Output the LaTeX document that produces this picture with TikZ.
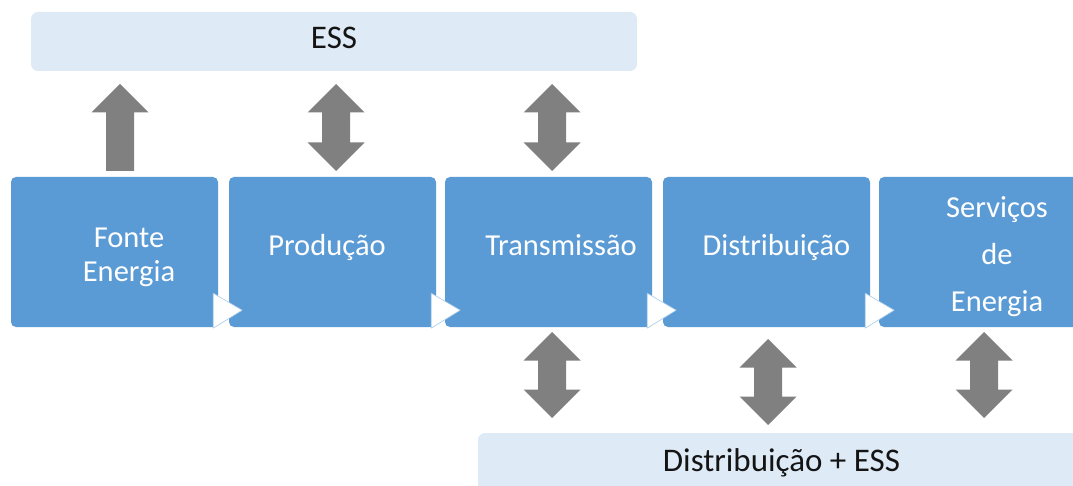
\documentclass[tikz,border=0pt]{standalone}
\usepackage{fontspec}
\setmainfont{Carlito}
\usetikzlibrary{positioning, calc}
\definecolor{chainblue}{HTML}{5B9BD5}
\definecolor{esslight}{HTML}{DEEAF6}
\definecolor{arrowgray}{HTML}{808080}
\definecolor{edgeblue}{HTML}{A9CBEA}
\definecolor{textdark}{HTML}{141414}

% block arrows: x centre, top tip, bottom tip
\newcommand{\dblblock}[3]{%
  \fill[arrowgray] (#1,#2) -- (#1+28.5,#2+28.5) -- (#1+14,#2+28.5) -- (#1+14,#3-28.5)
    -- (#1+28.5,#3-28.5) -- (#1,#3) -- (#1-28.5,#3-28.5) -- (#1-14,#3-28.5)
    -- (#1-14,#2+28.5) -- (#1-28.5,#2+28.5) -- cycle;}
\newcommand{\upblock}[3]{%
  \fill[arrowgray] (#1,#2) -- (#1+28.5,#2+28.5) -- (#1+14,#2+28.5) -- (#1+14,#3)
    -- (#1-14,#3) -- (#1-14,#2+28.5) -- (#1-28.5,#2+28.5) -- cycle;}

\begin{document}
\begin{tikzpicture}[x=1pt, y=-1pt,
    every node/.style={inner sep=0pt},
    stage/.style={fill=chainblue, rounded corners=5pt, minimum width=207pt, minimum height=150pt},
    stagetext/.style={text=white, anchor=base, align=center, font=\fontsize{30.5}{33}\selectfont},
    storage/.style={fill=esslight, rounded corners=7pt},
    storagetext/.style={text=textdark, anchor=base, font=\fontsize{33}{38}\selectfont},
    flowtip/.style={fill=white, draw=edgeblue, line width=0.6pt, line join=round},
]

\clip (0,0) rectangle (1073,486);
\fill[white] (0,0) rectangle (1073,486);

% === ESS on top ===
\node[storage, minimum width=606pt, minimum height=59pt] (ess) at (334,41.5) {};
\node[storagetext] (esslbl) at (334,49) {ESS};

% === value chain ===
\node[stage] (b1) at (114.5,252) {};
\node[stage] (b2) at (332.5,252) {};
\node[stage] (b3) at (548.5,252) {};
\node[stage] (b4) at (766.5,252) {};
\node[stage] (b5) at (982.5,252) {};

% multi-line labels sit on the baseline of their last line
\node[stagetext] (t1) at (129,281) {Fonte\\Energia};
\node[stagetext] (t2) at (327,256) {Produção};
\node[stagetext] (t3) at (561,256) {Transmissão};
\node[stagetext] (t4) at (776.5,256) {Distribuição};
\node[stagetext, font=\fontsize{30.5}{46.5}\selectfont] (t5) at (997,311) {Serviços\\de\\Energia};

% white flow tips between the stages
\foreach \b in {b1,b2,b3,b4}
  \filldraw[flowtip] ($(\b.south east)+(-5,-34)$) -- ($(\b.south east)+(24,-17)$)
    -- ($(\b.south east)+(-5,1)$) -- cycle;

% === Distribuição + ESS at the bottom ===
\node[storage, minimum width=612pt, minimum height=67pt] (dess) at (784,466.5) {};
\node[storagetext] (desslbl) at (781.5,471.7) {Distribuição + ESS};

% === exchange arrows ===
\upblock{120}{84}{171}
\dblblock{336}{84}{171}
\dblblock{552}{84}{171}
\dblblock{552}{332}{418}
\dblblock{768}{339}{425}
\dblblock{984}{332}{418}

\end{tikzpicture}
\end{document}
